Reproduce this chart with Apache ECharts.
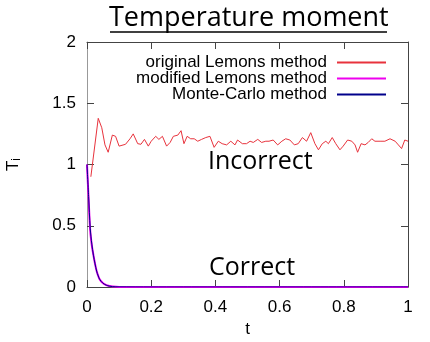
<!DOCTYPE html>
<html>
<head>
<meta charset="utf-8">
<script src="https://cdn.jsdelivr.net/npm/echarts@6/dist/echarts.min.js"></script>
<style>
html,body{margin:0;padding:0;background:#fff;}
#main{width:430px;height:342px;}
</style>
</head>
<body>
<div id="main"></div>
<script>
// original Lemons method (noisy, around 1.2)
var tRed = [0.012,0.035,0.046,0.056,0.066,0.079,0.089,0.10,0.12,0.134,0.144,0.158,0.168,0.179,0.191,0.20,0.214,0.224,0.235,0.248,0.259,0.269,0.283,0.293,0.302,0.312,0.323,0.334,0.345,0.357,0.37,0.383,0.396,0.409,0.421,0.435,0.448,0.461,0.469,0.484,0.497,0.508,0.518,0.532,0.544,0.557,0.567,0.58,0.594,0.607,0.619,0.632,0.646,0.658,0.671,0.684,0.697,0.71,0.721,0.733,0.744,0.752,0.764,0.775,0.788,0.798,0.812,0.825,0.835,0.843,0.854,0.866,0.876,0.887,0.897,0.913,0.928,0.944,0.96,0.97,0.98,0.99,1.0];
var tempRed = [0.90,1.377,1.30,1.16,1.10,1.24,1.23,1.15,1.165,1.21,1.25,1.17,1.165,1.205,1.15,1.19,1.23,1.205,1.23,1.15,1.18,1.23,1.24,1.276,1.17,1.23,1.21,1.21,1.19,1.205,1.22,1.23,1.14,1.19,1.17,1.16,1.19,1.16,1.2,1.17,1.17,1.19,1.18,1.205,1.18,1.19,1.19,1.2,1.16,1.19,1.21,1.2,1.16,1.17,1.22,1.19,1.26,1.17,1.12,1.17,1.19,1.17,1.22,1.17,1.12,1.15,1.2,1.19,1.16,1.10,1.17,1.16,1.18,1.21,1.19,1.19,1.19,1.21,1.19,1.16,1.13,1.2,1.19];

// modified Lemons / Monte-Carlo (decay to 0)
var tDecay = [0,0.005,0.01,0.015,0.02,0.025,0.03,0.035,0.04,0.05,0.06,0.07,0.08,0.1,0.2,0.4,0.6,0.8,1];
var tempMod = [1,0.72,0.46,0.34,0.26,0.19,0.13,0.09,0.06,0.03,0.015,0.008,0.004,0.001,0,0,0,0,0];
var tempMC = [1,0.74,0.48,0.35,0.26,0.19,0.13,0.09,0.06,0.03,0.015,0.007,0.003,0.001,0,0,0,0,0];

var seriesNames = ['original Lemons method','modified Lemons method','Monte-Carlo method'];

function pairs(xs, ys){
	var out = [];
	for(var i = 0; i < xs.length; i++){ out.push([xs[i], ys[i]]); }
	return out;
}

var font = 'Liberation Sans';
var frame = '#444';

var myChart = echarts.init(document.getElementById('main'));
var option = {
	animation: false,
	backgroundColor: '#fff',
	grid: {left: 87, right: 22, top: 42, bottom: 55, outerBoundsMode: 'none', containLabel: false},
	legend: {
		orient: 'vertical',
		right: 38,
		top: 49,
		align: 'right',
		itemWidth: 49,
		itemHeight: 12,
		itemGap: -1,
		itemStyle: {opacity: 0},
		data: seriesNames,
		textStyle: {fontFamily: font, fontSize: 17, color: '#000', padding: [0, 5, 0, 0]}
	},
	xAxis: [{
		type: 'value', min: 0, max: 1, interval: 0.2,
		name: 't', nameLocation: 'middle', nameGap: 30,
		nameTextStyle: {fontFamily: font, fontSize: 17, color: '#000'},
		axisLine: {show: true, onZero: false, lineStyle: {color: frame}},
		axisTick: {inside: true, length: 7, lineStyle: {color: frame}},
		axisLabel: {fontFamily: font, fontSize: 17, color: '#000', margin: 12},
		splitLine: {show: false}
	},{
		type: 'value', min: 0, max: 1, interval: 0.2, position: 'top',
		axisLine: {show: true, onZero: false, lineStyle: {color: frame}},
		axisTick: {inside: true, length: 7, lineStyle: {color: frame}},
		axisLabel: {show: false},
		splitLine: {show: false}
	}],
	yAxis: [{
		type: 'value', min: 0, max: 2, interval: 0.5,
		name: 'T{sub|i}', nameLocation: 'middle', nameGap: 64, nameRotate: 90,
		nameTextStyle: {fontFamily: font, fontSize: 17, color: '#000',
			rich: {sub: {fontFamily: font, fontSize: 12, color: '#000', padding: [8, 0, 0, 0]}}},
		axisLine: {show: true, onZero: false, lineStyle: {color: '#999'}},
		axisTick: {inside: true, length: 7, lineStyle: {color: frame}},
		axisLabel: {fontFamily: font, fontSize: 17, color: '#000', margin: 11},
		splitLine: {show: false}
	},{
		type: 'value', min: 0, max: 2, interval: 0.5, position: 'right',
		axisLine: {show: true, onZero: false, lineStyle: {color: frame}},
		axisTick: {inside: true, length: 7, lineStyle: {color: frame}},
		axisLabel: {show: false},
		splitLine: {show: false}
	}],
	series: [{
		name: seriesNames[0], type: 'line', symbol: 'none',
		lineStyle: {color: '#e8323c', width: 1}, itemStyle: {color: '#e8323c'},
		data: pairs(tRed, tempRed)
	},{
		name: seriesNames[1], type: 'line', symbol: 'none', smooth: 0.3,
		lineStyle: {color: '#ee00ee', width: 2}, itemStyle: {color: '#ee00ee'},
		data: pairs(tDecay, tempMod)
	},{
		name: seriesNames[2], type: 'line', symbol: 'none', smooth: 0.3,
		lineStyle: {color: '#00008b', width: 1}, itemStyle: {color: '#00008b'},
		data: pairs(tDecay, tempMC)
	}],
	graphic: [{
		type: 'text', left: 109, top: 5,
		style: {text: 'Temperature moment', font: '27px "Open Sans"', fill: '#000'}
	},{
		type: 'line', shape: {x1: 110, y1: 32, x2: 387, y2: 32},
		style: {stroke: '#000', lineWidth: 1.5}
	},{
		type: 'text', left: 208, top: 149,
		style: {text: 'Incorrect', font: '25px "Open Sans"', fill: '#000'}
	},{
		type: 'text', left: 209, top: 255,
		style: {text: 'Correct', font: '25px "Open Sans"', fill: '#000'}
	}]
};
myChart.setOption(option);
</script>
</body>
</html>
